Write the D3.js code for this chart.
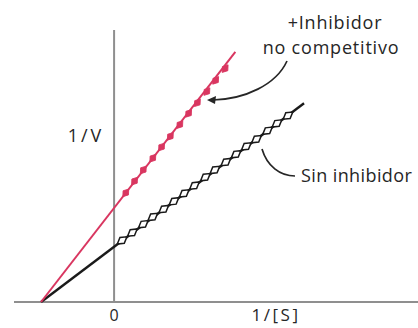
<!DOCTYPE html>
<html><head><meta charset="utf-8">
<script src="https://cdn.jsdelivr.net/npm/d3@7"></script>
<style>html,body{margin:0;padding:0;background:#fff;}svg{display:block;}</style>
</head><body>
<svg id="c" width="418" height="328"></svg>
<script>
// Lineweaver-Burk: 1/V vs 1/[S]
const xDomain = [-1.37, 4.16];
const yDomain = [0, 4.86];
// line endpoints (1/[S], 1/V)
const lineNoInhX = [-1.0, 2.6];
const lineNoInhY = [0.0, 3.55];
const lineInhX = [-1.0, 1.66];
const lineInhY = [0.0, 4.47];
// markers on "sin inhibidor" line
const ptsNoInhX = [0.11,0.25,0.40,0.53,0.68,0.82,0.96,1.10,1.25,1.38,1.53,1.67,1.81,1.95,2.10,2.23,2.38];
const ptsNoInhY = [1.10,1.24,1.39,1.52,1.66,1.80,1.94,2.08,2.23,2.36,2.50,2.64,2.78,2.91,3.06,3.19,3.33];
// markers on "+inhibidor no competitivo" line
const ptsInhX = [0.16,0.28,0.40,0.53,0.65,0.77,0.90,1.02,1.14,1.27,1.39,1.52];
const ptsInhY = [1.95,2.16,2.36,2.57,2.77,2.96,3.17,3.37,3.56,3.76,3.96,4.17];
const xLabel = "1/[S]";
const yLabel = "1/V";
const zeroLabel = "0";
const labelInh = ["+Inhibidor", "no competitivo"];
const labelNoInh = "Sin inhibidor";

const svg = d3.select("#c");
const x = d3.scaleLinear().domain(xDomain).range([14, 418]);
const y = d3.scaleLinear().domain(yDomain).range([302, 30]);
const red = "#d93660", dark = "#1a1a1a", axisCol = "#8f8f8f", txt = "#262626";
const font = "'Open Sans', sans-serif";

// axes
svg.append("line").attr("x1", x(xDomain[0])).attr("x2", x(xDomain[1]))
  .attr("y1", y(0)).attr("y2", y(0)).attr("stroke", axisCol).attr("stroke-width", 2);
svg.append("line").attr("x1", x(0)).attr("x2", x(0))
  .attr("y1", y(0)).attr("y2", y(yDomain[1])).attr("stroke", axisCol).attr("stroke-width", 2);

const line = d3.line().x(d => x(d[0])).y(d => y(d[1]));
function angle(xs, ys) {
  return Math.atan2(y(ys[1]) - y(ys[0]), x(xs[1]) - x(xs[0])) * 180 / Math.PI;
}
svg.append("path").attr("d", line(d3.zip(lineNoInhX, lineNoInhY)))
  .attr("stroke", dark).attr("stroke-width", 2.4).attr("fill", "none");
svg.append("path").attr("d", line(d3.zip(lineInhX, lineInhY)))
  .attr("stroke", red).attr("stroke-width", 2).attr("fill", "none");

const a1 = angle(lineNoInhX, lineNoInhY);
svg.append("g").selectAll("path").data(d3.zip(ptsNoInhX, ptsNoInhY)).join("path")
  .attr("d", "M-6,0L0,-3.6L6,0L0,3.6Z")
  .attr("transform", d => `translate(${x(d[0])},${y(d[1])}) rotate(${a1})`)
  .attr("fill", "#fff").attr("stroke", dark).attr("stroke-width", 1.5);

const a2 = angle(lineInhX, lineInhY);
svg.append("g").selectAll("path").data(d3.zip(ptsInhX, ptsInhY)).join("path")
  .attr("d", "M-4.8,0L0,-3.4L4.8,0L0,3.4Z")
  .attr("transform", d => `translate(${x(d[0])},${y(d[1])}) rotate(${a2})`)
  .attr("fill", red).attr("stroke", red).attr("stroke-width", 0.8);

// labels
function label(tx, ty, s, anchor, size, ls) {
  svg.append("text").attr("x", tx).attr("y", ty).attr("text-anchor", anchor)
    .attr("font-family", font).attr("font-size", size).attr("fill", txt)
    .attr("letter-spacing", ls || 0).text(s);
}
label(x(0), 321, zeroLabel, "middle", 16);
label(276, 321, xLabel, "middle", 17, 2.5);
label(86, 142, yLabel, "middle", 18, 3);
label(335, 29, labelInh[0], "middle", 18, 0.8);
label(331, 54, labelInh[1], "middle", 18, 0.8);
label(301, 182, labelNoInh, "start", 18, 0.4);

// callouts
svg.append("path").attr("d", "M287,61 C276,85 245,99 213,100")
  .attr("fill", "none").attr("stroke", txt).attr("stroke-width", 1.7);
svg.append("path").attr("d", "M207,100 L216,96 L215,104 Z").attr("fill", txt);
svg.append("path").attr("d", "M295,176 C280,176 267,166 262,149")
  .attr("fill", "none").attr("stroke", txt).attr("stroke-width", 1.7);
</script>
</body></html>
